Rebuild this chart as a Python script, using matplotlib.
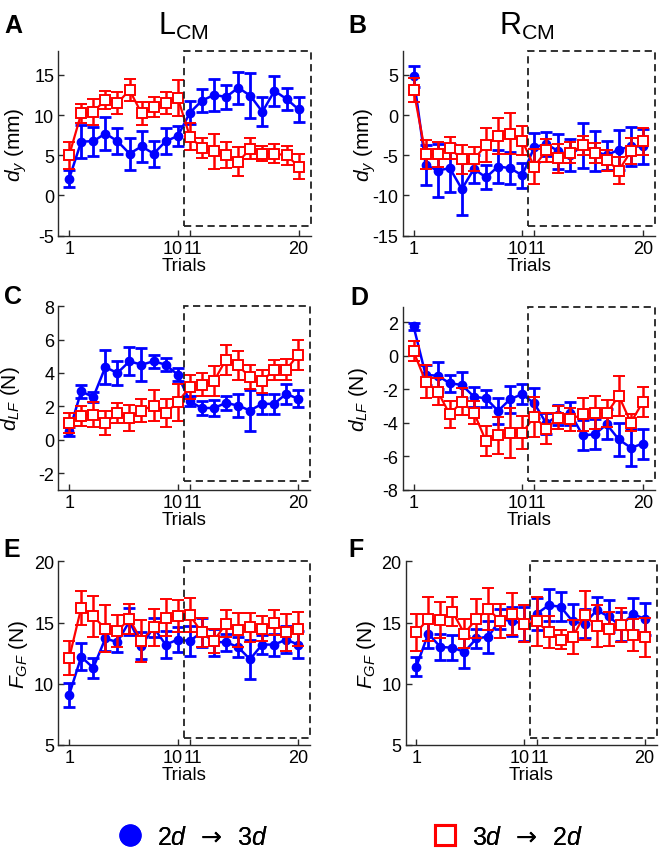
import matplotlib
matplotlib.use('Agg')
import matplotlib.pyplot as plt
import matplotlib.transforms as mtrans
from matplotlib.lines import Line2D
from matplotlib.patches import Rectangle

plt.rcParams['font.family'] = ['Liberation Sans', 'DejaVu Sans']
plt.rcParams['mathtext.fontset'] = 'custom'
plt.rcParams['mathtext.rm'] = 'Liberation Sans'
plt.rcParams['mathtext.it'] = 'Liberation Sans:italic'
plt.rcParams['mathtext.bf'] = 'Liberation Sans:bold'
plt.rcParams['axes.unicode_minus'] = False

# ---------------- data ----------------
trials = list(range(1, 21))
xtick_vals = [1, 10, 11, 20]
xtick_labels = ['1', '10', '11', '20']
xlabel_text = 'Trials'
col_titles = [r'L$_{\mathregular{CM}}$', r'R$_{\mathregular{CM}}$']
panel_letters = ['A', 'B', 'C', 'D', 'E', 'F']
ylabels = [r'$d_y$ (mm)', r'$d_y$ (mm)', r'$d_{LF}$ (N)', r'$d_{LF}$ (N)',
           r'$F_{GF}$ (N)', r'$F_{GF}$ (N)']
legend_labels = ['$2d$  \u2192  $3d$', '$3d$  \u2192  $2d$']

# Panel A  (L_CM, d_y)
A_blue = [2.1, 6.7, 6.75, 7.7, 6.75, 5.2, 6.1, 5.2, 6.75, 7.4,
          10.3, 11.8, 12.5, 12.25, 13.4, 12.4, 10.4, 13.0, 12.0, 10.7]
A_blue_err = [1.1, 2.1, 1.8, 2.1, 1.6, 2.0, 1.9, 1.6, 1.6, 1.3,
              1.4, 1.4, 2.0, 1.5, 2.0, 2.8, 1.8, 1.9, 1.4, 1.6]
A_red = [5.0, 10.2, 10.4, 11.9, 11.5, 13.1, 10.2, 11.0, 11.5, 12.1,
         7.3, 5.9, 5.5, 5.0, 4.2, 5.8, 5.2, 5.2, 5.0, 3.6]
A_red_err = [1.7, 1.2, 1.6, 1.1, 1.4, 1.4, 1.4, 1.3, 1.4, 2.2,
             1.7, 1.3, 2.2, 1.6, 1.8, 1.3, 0.9, 1.2, 1.2, 1.6]

# Panel B  (R_CM, d_y)
B_blue = [4.8, -6.2, -6.9, -6.6, -9.2, -6.7, -7.75, -6.4, -6.6, -7.5,
          -4.0, -3.6, -4.5, -5.0, -3.75, -4.5, -5.0, -4.3, -3.9, -3.9]
B_blue_err = [1.3, 2.5, 3.3, 3.0, 3.2, 1.7, 1.5, 2.0, 2.0, 1.6,
              1.8, 1.5, 2.2, 2.0, 2.8, 2.5, 1.8, 2.5, 2.4, 2.2]
B_red = [3.1, -4.9, -4.9, -4.1, -5.5, -5.5, -3.75, -2.6, -2.3, -3.2,
         -6.4, -4.4, -5.4, -4.7, -3.75, -4.7, -5.6, -6.9, -4.5, -3.25]
B_red_err = [1.5, 1.8, 1.5, 1.4, 1.8, 1.5, 2.1, 2.2, 2.5, 1.8,
             2.2, 1.4, 1.8, 1.3, 1.2, 1.2, 1.3, 1.7, 1.6, 1.7]

# Panel C  (L_CM, d_LF)
C_blue = [0.5, 2.9, 2.55, 4.35, 4.0, 4.7, 4.5, 4.7, 4.5, 3.9,
          2.3, 1.9, 1.9, 2.2, 2.05, 1.75, 2.15, 2.15, 2.75, 2.45]
C_blue_err = [0.25, 0.4, 0.3, 1.0, 0.7, 0.85, 1.0, 0.4, 0.4, 0.4,
              0.3, 0.4, 0.5, 0.4, 0.7, 1.2, 0.6, 0.6, 0.6, 0.5]
C_red = [1.0, 1.45, 1.5, 1.0, 1.6, 1.3, 1.75, 2.05, 1.6, 2.25,
         3.15, 3.3, 3.5, 4.8, 4.45, 3.75, 3.5, 4.2, 4.2, 5.1]
C_red_err = [0.6, 0.6, 0.75, 0.7, 0.6, 0.8, 0.7, 0.9, 0.85, 1.1,
             0.7, 0.7, 0.9, 0.9, 0.85, 0.7, 0.7, 0.6, 0.65, 0.9]

# Panel D  (R_CM, d_LF)
D_blue = [1.75, -1.15, -1.2, -1.65, -1.75, -2.45, -2.55, -3.3, -2.6, -2.3,
          -2.85, -4.05, -3.55, -3.45, -4.75, -4.7, -4.1, -5.0, -5.5, -5.25]
D_blue_err = [0.2, 0.6, 0.8, 0.5, 0.8, 0.6, 0.5, 0.8, 0.8, 0.6,
              0.9, 0.6, 0.6, 0.7, 0.9, 0.9, 0.9, 1.0, 1.1, 0.9]
D_red = [0.25, -1.55, -2.15, -3.5, -2.75, -3.4, -5.1, -4.75, -4.6, -4.6,
         -3.65, -4.35, -3.7, -3.8, -3.5, -3.4, -3.45, -2.4, -4.0, -2.75]
D_red_err = [0.6, 1.0, 0.8, 0.8, 0.8, 0.7, 0.9, 1.1, 1.5, 1.0,
             1.2, 0.9, 0.7, 0.7, 1.0, 1.0, 0.8, 1.2, 0.5, 0.9]

# Panel E  (L_CM, F_GF)
E_blue = [9.1, 12.2, 11.3, 13.7, 13.4, 15.1, 13.1, 14.6, 13.2, 13.6,
          13.5, 14.2, 13.4, 13.4, 13.0, 12.0, 13.2, 13.2, 13.6, 13.2]
E_blue_err = [1.0, 1.1, 0.8, 1.0, 0.8, 1.1, 1.1, 0.8, 1.1, 1.0,
              1.2, 1.2, 1.1, 0.7, 0.8, 1.6, 0.8, 0.9, 1.1, 1.1]
E_red = [12.1, 16.2, 15.5, 14.5, 14.3, 15.3, 13.5, 14.6, 15.4, 15.5,
         15.6, 14.2, 13.5, 14.9, 14.4, 14.6, 14.5, 15.0, 14.2, 14.5]
E_red_err = [1.4, 1.4, 1.7, 1.9, 1.3, 1.2, 1.7, 1.5, 1.5, 1.3,
             1.4, 1.2, 1.0, 1.1, 1.4, 1.2, 1.0, 1.0, 1.5, 1.4]

# Panel F  (R_CM, F_GF)
F_blue = [11.4, 14.1, 13.0, 12.95, 12.6, 13.7, 13.85, 15.3, 15.1, 14.9,
          15.7, 16.4, 16.3, 15.1, 14.9, 16.0, 15.5, 14.7, 15.7, 15.3]
F_blue_err = [0.8, 1.2, 1.1, 1.0, 1.3, 0.8, 1.3, 0.8, 1.2, 1.4,
              1.3, 1.3, 1.2, 1.4, 1.2, 1.1, 1.3, 1.2, 1.3, 1.3]
F_red = [14.2, 15.3, 15.2, 15.9, 14.1, 15.3, 16.1, 15.1, 15.7, 14.9,
         15.1, 14.2, 13.6, 13.8, 15.6, 14.7, 14.5, 14.8, 14.0, 13.8]
F_red_err = [1.5, 1.8, 1.5, 1.2, 1.2, 1.6, 1.7, 1.4, 1.7, 1.5,
             2.0, 1.3, 0.8, 1.4, 2.0, 1.7, 1.4, 1.4, 1.3, 1.6]

ylims = [(-5, 18), (-15, 8), (-3, 8), (-8, 2.9), (5, 20), (5, 20)]
yticks = [[-5, 0, 5, 10, 15], [-15, -10, -5, 0, 5], [-2, 0, 2, 4, 6, 8],
          [-8, -6, -4, -2, 0, 2], [5, 10, 15, 20], [5, 10, 15, 20]]
box_bottoms = [-3.75, -13.75, -2.5, -7.5, 5.6, 5.6]
box_left = 10.5
xlim = (0.1, 21.0)

blue_means = [A_blue, B_blue, C_blue, D_blue, E_blue, F_blue]
blue_errs = [A_blue_err, B_blue_err, C_blue_err, D_blue_err, E_blue_err, F_blue_err]
red_means = [A_red, B_red, C_red, D_red, E_red, F_red]
red_errs = [A_red_err, B_red_err, C_red_err, D_red_err, E_red_err, F_red_err]

# ---------------- layout (pixels) ----------------
W, H = 660, 853
fig = plt.figure(figsize=(W / 100, H / 100), dpi=100)

# left, top, right, bottom in pixels
ax_px = [(58.3, 51.7, 310.7, 236.7), (402.7, 51.7, 655.0, 236.7),
         (58.3, 307.3, 310.3, 490.7), (402.7, 308.0, 655.0, 490.7),
         (58.3, 562.3, 310.3, 746.0), (405.5, 562.3, 656.7, 746.0)]
ylabel_x_px = [16, 365, 11, 359, 19, 367]
letter_px = [(13, 26), (357, 26), (13, 297), (359, 298), (12, 550), (356, 550)]
tick_shift_px = [0, -5, 3, 0]

BLUE = '#0000ff'
RED = '#ff0000'
AXC = '#2a2a2a'

for i in range(6):
    l, t, r, b = ax_px[i]
    ax = fig.add_axes([l / W, 1 - b / H, (r - l) / W, (b - t) / H])
    ax.errorbar(trials, blue_means[i], yerr=blue_errs[i], fmt='-o', color=BLUE,
                ms=6, lw=1.8, elinewidth=2.0, capsize=4, capthick=2.0, zorder=3)
    ax.errorbar(trials, red_means[i], yerr=red_errs[i], fmt='-s', color=RED,
                mfc='white', mec=RED, ms=7.5, mew=1.4, lw=1.6, elinewidth=1.8,
                capsize=4, capthick=1.8, zorder=4)
    ax.set_xlim(*xlim)
    ax.set_ylim(*ylims[i])
    ax.set_yticks(yticks[i])
    ax.set_xticks(xtick_vals)
    ax.set_xticklabels(xtick_labels)
    ax.tick_params(direction='in', length=4, width=1, color=AXC,
                   labelsize=13, pad=3)
    for lab, sh in zip(ax.get_xticklabels(), tick_shift_px):
        if sh:
            lab.set_transform(lab.get_transform() +
                              mtrans.ScaledTranslation(sh / 100, 0, fig.dpi_scale_trans))
    for s in ['top', 'right']:
        ax.spines[s].set_visible(False)
    for s in ['left', 'bottom']:
        ax.spines[s].set_color(AXC)
        ax.spines[s].set_linewidth(1.0)
    ax.set_xlabel(xlabel_text, fontsize=13.5, labelpad=0)
    yl0, yl1 = ylims[i]
    rect = Rectangle((box_left, box_bottoms[i]), xlim[1] - box_left,
                     yl1 - box_bottoms[i], fill=False, ec='#222222', lw=1.3,
                     ls=(0, (4, 2.5)), zorder=5, clip_on=False)
    ax.add_patch(rect)
    ax.set_ylabel(ylabels[i], fontsize=15, rotation=90, ha='center', va='center')
    ax.yaxis.set_label_coords((ylabel_x_px[i] - l) / (r - l), 0.5)
    lx, ly = letter_px[i]
    fig.text(lx / W, 1 - ly / H, panel_letters[i], fontsize=18, fontweight='bold',
             ha='center', va='center')

# column titles
fig.text(183.5 / W, 1 - 35 / H, col_titles[0], fontsize=22, ha='center', va='baseline')
fig.text(527 / W, 1 - 35 / H, col_titles[1], fontsize=22, ha='center', va='baseline')

# legend
h_blue = Line2D([], [], ls='none', marker='o', ms=15, mfc=BLUE, mec=BLUE)
h_red = Line2D([], [], ls='none', marker='s', ms=14, mfc='white', mec=RED, mew=2.2)
leg_y = 1 - 838 / H
for h, lab, x0 in [(h_blue, legend_labels[0], 117), (h_red, legend_labels[1], 432)]:
    lg = fig.legend(handles=[h], labels=[lab], loc='center left',
                    bbox_to_anchor=(x0 / W, leg_y), frameon=False,
                    prop={'family': ['DejaVu Sans'], 'size': 18},
                    handlelength=1.0, handletextpad=0.6, borderpad=0,
                    borderaxespad=0)
    fig.add_artist(lg)

fig.savefig('out.png', dpi=100)
